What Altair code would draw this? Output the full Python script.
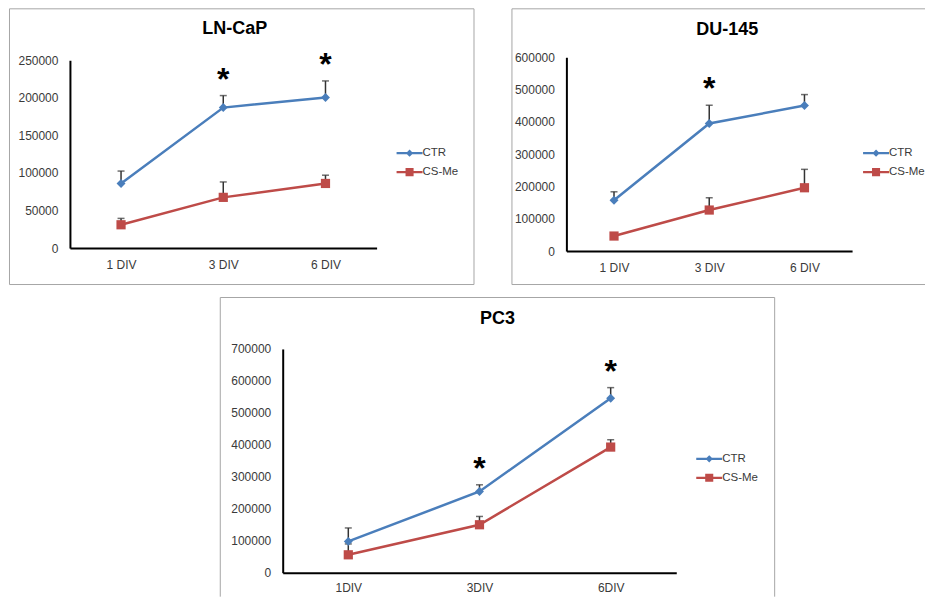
import altair as alt
import pandas as pd

FONT = "Liberation Sans"
TXT = "#3a3a3a"

# ---------------- data ----------------
series = ["CTR", "CS-Me"]
series_colors = ["#4A7EBB", "#BE4B48"]

cats_top = ["1 DIV", "3 DIV", "6 DIV"]
cats_pc3 = ["1DIV", "3DIV", "6DIV"]

lncap_ctr = [86000, 187000, 200500]
lncap_ctr_err = [16500, 16000, 22000]
lncap_csme = [31000, 67500, 86000]
lncap_csme_err = [8500, 20500, 11000]
lncap_sig = ["3 DIV", "6 DIV"]

du145_ctr = [157500, 395000, 450500]
du145_ctr_err = [26000, 56500, 34000]
du145_csme = [46500, 127000, 196000]
du145_csme_err = [5000, 38000, 57000]
du145_sig = ["3 DIV"]

pc3_ctr = [98000, 254000, 546000]
pc3_ctr_err = [42000, 21000, 33000]
pc3_csme = [56000, 150000, 393000]
pc3_csme_err = [34000, 26000, 23000]
pc3_sig = ["3DIV", "6DIV"]

# legend key glyphs: line + diamond, line + square
legend_paths = [
    "M-1,-0.09H1V0.09H-1ZM0,-0.28L0.28,0L0,0.28L-0.28,0Z",
    "M-1,-0.09H1V0.09H-1ZM-0.31,-0.31H0.31V0.31H-0.31Z",
]
point_shapes = ["diamond", "square"]
point_sizes = [80, 85]
KEY = 26  # legend key width in px


def panel(title, cats, ctr, ctr_err, csme, csme_err, sig, ymax, ystep, geo):
    W, H = geo["W"], geo["H"]
    x0, x1 = geo["xr"]
    y0, y1 = geo["yr"]
    rows = []
    for s, vals, errs in (("CTR", ctr, ctr_err), ("CS-Me", csme, csme_err)):
        for c, v, e in zip(cats, vals, errs):
            rows.append({"cat": c, "series": s, "mean": v, "err": e, "top": v + e})
    df = pd.DataFrame(rows)
    sig_df = df[(df["series"] == "CTR") & (df["cat"].isin(sig))].assign(mark="*")

    xaxis = alt.Axis(title=None, ticks=False, grid=False, domainColor="#000000",
                     domainWidth=2, labelPadding=geo.get("xpad", 11), labelFontSize=12,
                     labelColor=TXT, labelFont=FONT, labelAngle=0,
                     offset=-(H - y0))
    yaxis = alt.Axis(title=None, ticks=False, grid=False, domainColor="#000000",
                     domainWidth=2, labelPadding=12, labelFontSize=12,
                     labelColor=TXT, labelFont=FONT, format="d",
                     values=list(range(0, ymax + 1, ystep)), offset=-x0)
    xs = alt.Scale(type="point", domain=cats, range=[x0, x1], padding=0.5)
    ys = alt.Scale(domain=[0, ymax], range=[y0, y1], nice=False, zero=True)
    cs = alt.Scale(domain=series, range=series_colors)

    def X():
        return alt.X("cat:N", sort=cats, scale=xs, axis=xaxis)

    def Y(f):
        return alt.Y(f"{f}:Q", scale=ys, axis=yaxis)

    base = alt.Chart(df)
    err_rule = base.mark_rule(color="#333333", strokeWidth=1.5).encode(
        x=X(), y=Y("mean"), y2="top:Q")
    err_cap = base.mark_tick(color="#333333", thickness=1.5, size=7).encode(
        x=X(), y=Y("top"))
    lines, pts = [], []
    for s, col, shp, sz in zip(series, series_colors, point_shapes, point_sizes):
        sub = base.transform_filter(alt.datum.series == s)
        lines.append(sub.mark_line(strokeWidth=2.5, color=col).encode(
            x=X(), y=Y("mean")))
        pts.append(sub.mark_point(filled=True, shape=shp, size=sz, opacity=1,
                                  color=col).encode(x=X(), y=Y("mean")))
    stars = alt.Chart(sig_df).mark_text(
        font=FONT, fontSize=32, fontWeight="bold", color="#000000",
        align="center", baseline="alphabetic", dy=-6).encode(
        x=X(), y=Y("top"), text="mark:N")

    lg = alt.Legend(orient="none", legendX=geo["lx"], legendY=geo["ly"],
                    title=None, symbolSize=KEY * KEY, symbolStrokeWidth=0,
                    symbolOpacity=1, labelFont=FONT, labelFontSize=11.5,
                    labelColor=TXT, labelOffset=0, rowPadding=-4, padding=0)
    key = alt.Chart(df).transform_filter("false").mark_point(
        filled=True, size=KEY * KEY, opacity=1).encode(
        color=alt.Color("series:N", scale=cs, legend=lg),
        shape=alt.Shape("series:N",
                        scale=alt.Scale(domain=series, range=legend_paths),
                        legend=lg))

    ttl = alt.Chart(pd.DataFrame({"t": [title]})).mark_text(
        font=FONT, fontSize=18, fontWeight="bold", color="#000000",
        align="center", baseline="middle").encode(
        x=alt.value(geo["tx"]), y=alt.value(geo["ty"]), text="t:N")

    one = pd.DataFrame({"k": [0]})
    borders = []
    bx0, bx1 = geo["bx"]
    bby1 = geo.get("by1", H - 0.5)
    for side in geo["sides"]:
        if side == "left":
            e = dict(x=alt.value(bx0), x2=alt.value(bx0), y=alt.value(0.5), y2=alt.value(bby1))
        elif side == "right":
            e = dict(x=alt.value(bx1), x2=alt.value(bx1), y=alt.value(0.5), y2=alt.value(bby1))
        elif side == "top":
            e = dict(x=alt.value(bx0), x2=alt.value(bx1), y=alt.value(0.5), y2=alt.value(0.5))
        else:
            e = dict(x=alt.value(bx0), x2=alt.value(bx1), y=alt.value(bby1), y2=alt.value(bby1))
        borders.append(alt.Chart(one).mark_rule(color="#a6a6a6", strokeWidth=1).encode(**e))

    layers = borders + [err_rule, err_cap] + lines + pts + [stars, key, ttl]
    return alt.layer(*layers).properties(width=W, height=H)


# panel boxes: A page x 9..475, B page x 512.., C page x 220..
geo_a = dict(W=466, H=277, xr=[61, 368], yr=[240, 52], tx=226, ty=21,
             lx=388, ly=132, bx=[0.5, 465.5], sides=["left", "right", "top", "bottom"])
geo_b = dict(W=414, H=277, xr=[55, 341], yr=[243, 49], tx=216, ty=22,
             lx=352, ly=132, bx=[0.5, 414], sides=["left", "top", "bottom"])
OFF = 211
geo_c = dict(W=OFF + 556, H=300, xr=[OFF + 63, OFF + 457], yr=[276, 52],
             tx=OFF + 278, ty=22, lx=OFF + 477, ly=149, xpad=10,
             bx=[OFF + 0.5, OFF + 555.5], by1=300, sides=["left", "right", "top"])

pa = panel("LN-CaP", cats_top, lncap_ctr, lncap_ctr_err, lncap_csme, lncap_csme_err,
           lncap_sig, 250000, 50000, geo_a)
pb = panel("DU-145", cats_top, du145_ctr, du145_ctr_err, du145_csme, du145_csme_err,
           du145_sig, 600000, 100000, geo_b)
pc = panel("PC3", cats_pc3, pc3_ctr, pc3_ctr_err, pc3_csme, pc3_csme_err,
           pc3_sig, 700000, 100000, geo_c)

top = alt.hconcat(pa, pb, spacing=37).resolve_scale(
    color="independent", shape="independent").resolve_legend(
    color="independent", shape="independent")
chart = alt.vconcat(top, pc, spacing=12).resolve_scale(
    color="independent", shape="independent").resolve_legend(
    color="independent", shape="independent").properties(
    padding={"left": 1, "top": 0, "right": 0, "bottom": 0},
    background="#ffffff",
).configure_view(stroke=None)

chart.save("out.html", embed_options={"renderer": "svg", "actions": False})
